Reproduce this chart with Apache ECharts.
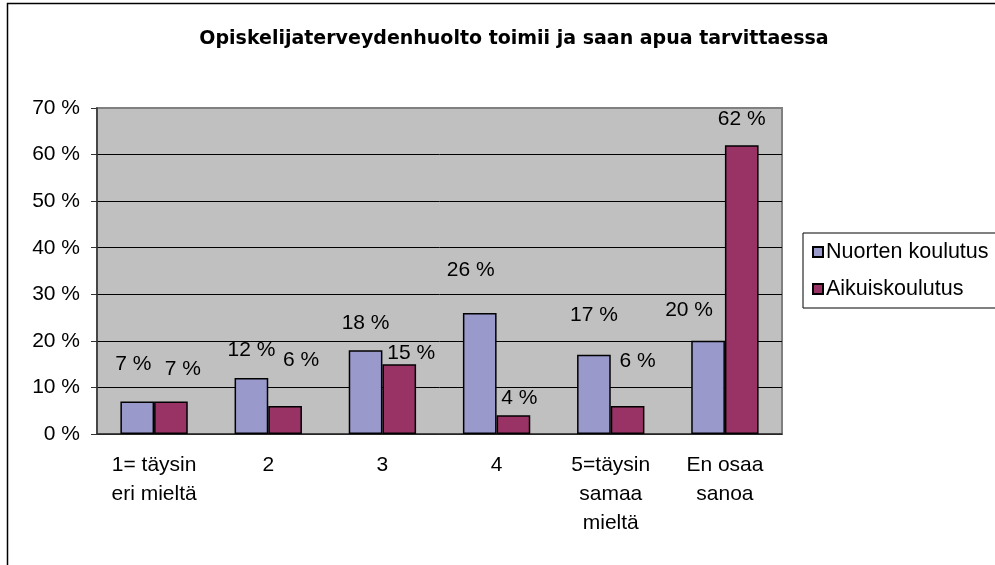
<!DOCTYPE html>
<html>
<head>
<meta charset="utf-8">
<script src="https://cdn.jsdelivr.net/npm/echarts@6/dist/echarts.min.js"></script>
<style>
  html, body { margin: 0; padding: 0; background: #fff; }
  #chart { width: 995px; height: 565px; }
</style>
</head>
<body>
<div id="chart"></div>
<script>
// kategoriat ja arvot (%)
const categories = ['1= täysin\neri mieltä', '2', '3', '4', '5=täysin\nsamaa\nmieltä', 'En osaa\nsanoa'];
const nuorten = [7, 12, 18, 26, 17, 20];
const aikuis = [7, 6, 15, 4, 6, 62];
const seriesNames = ['Nuorten koulutus', 'Aikuiskoulutus'];
const yTicks = [0, 10, 20, 30, 40, 50, 60, 70];

// Excelin arvoselitteet eivät ole aivan pylvään päällä -> siirrot
const nuortenLabelShift = [[-4, -27], [0, -17], [0, -16], [-9, -32], [0, -29], [-19, -20]];
const aikuisLabelShift = [[12, -22], [16, -35], [12, 0], [6, -7], [10, -34], [0, -16]];

const font = "'Liberation Sans', Arial, sans-serif";

const myChart = echarts.init(document.getElementById('chart'));

const makeData = (values, shifts) => values.map((v, i) => ({
  value: v,
  label: { offset: shifts[i] }
}));

const gridLineColors = yTicks.map((t, i) => i === yTicks.length - 1 ? '#808080' : '#000');

const option = {
  backgroundColor: '#fff',
  animation: false,
  title: {
    text: 'Opiskelijaterveydenhuolto toimii ja saan apua tarvittaessa',
    left: 509,
    top: 25,
    textAlign: 'center',
    textStyle: {
      fontFamily: "'DejaVu Sans', sans-serif",
      fontWeight: 'bold',
      fontSize: 19,
      color: '#000'
    }
  },
  graphic: [{
    type: 'rect',
    shape: { x: 7.5, y: 3.5, width: 1000, height: 600 },
    style: { fill: null, stroke: '#000', lineWidth: 1.5 },
    silent: true,
    z: 100
  }],
  legend: {
    data: seriesNames,
    orient: 'vertical',
    left: 803,
    top: 233,
    padding: [8, 10, 8, 9],
    itemGap: 15,
    itemWidth: 10,
    itemHeight: 10,
    icon: 'rect',
    borderColor: '#000',
    borderWidth: 1,
    textStyle: { fontFamily: font, fontSize: 21.5, color: '#000', padding: [0, 0, 0, -2] }
  },
  grid: {
    left: 97,
    right: 213,
    top: 108,
    bottom: 131,
    show: true,
    backgroundColor: '#C0C0C0',
    borderColor: '#808080',
    borderWidth: 2,
    containLabel: false
  },
  xAxis: {
    type: 'category',
    data: categories,
    axisLine: { lineStyle: { color: '#333', width: 1.5 } },
    axisTick: { length: 6, lineStyle: { color: '#333' } },
    axisLabel: {
      fontFamily: font,
      fontSize: 21,
      lineHeight: 29,
      color: '#000',
      margin: 17,
      interval: 0
    }
  },
  yAxis: {
    type: 'value',
    min: 0,
    max: 70,
    interval: 10,
    axisLine: { show: true, lineStyle: { color: '#333', width: 1.5 } },
    axisTick: { show: true, length: 6, lineStyle: { color: '#333' } },
    axisLabel: {
      fontFamily: font,
      fontSize: 21,
      color: '#000',
      margin: 17,
      formatter: '{value} %'
    },
    splitLine: { show: true, lineStyle: { color: gridLineColors, width: 1 } }
  },
  series: [
    {
      name: seriesNames[0],
      type: 'bar',
      data: makeData(nuorten, nuortenLabelShift),
      barGap: '0%',
      barCategoryGap: '41%',
      itemStyle: { color: '#9999CC', borderColor: '#000', borderWidth: 1.5 },
      label: {
        show: true,
        position: 'top',
        distance: 0,
        formatter: '{c} %',
        fontFamily: font,
        fontSize: 21,
        color: '#000'
      }
    },
    {
      name: seriesNames[1],
      type: 'bar',
      data: makeData(aikuis, aikuisLabelShift),
      barGap: '0%',
      barCategoryGap: '41%',
      itemStyle: { color: '#993366', borderColor: '#000', borderWidth: 1.5 },
      label: {
        show: true,
        position: 'top',
        distance: 0,
        formatter: '{c} %',
        fontFamily: font,
        fontSize: 21,
        color: '#000'
      }
    }
  ]
};

myChart.setOption(option);
</script>
</body>
</html>
